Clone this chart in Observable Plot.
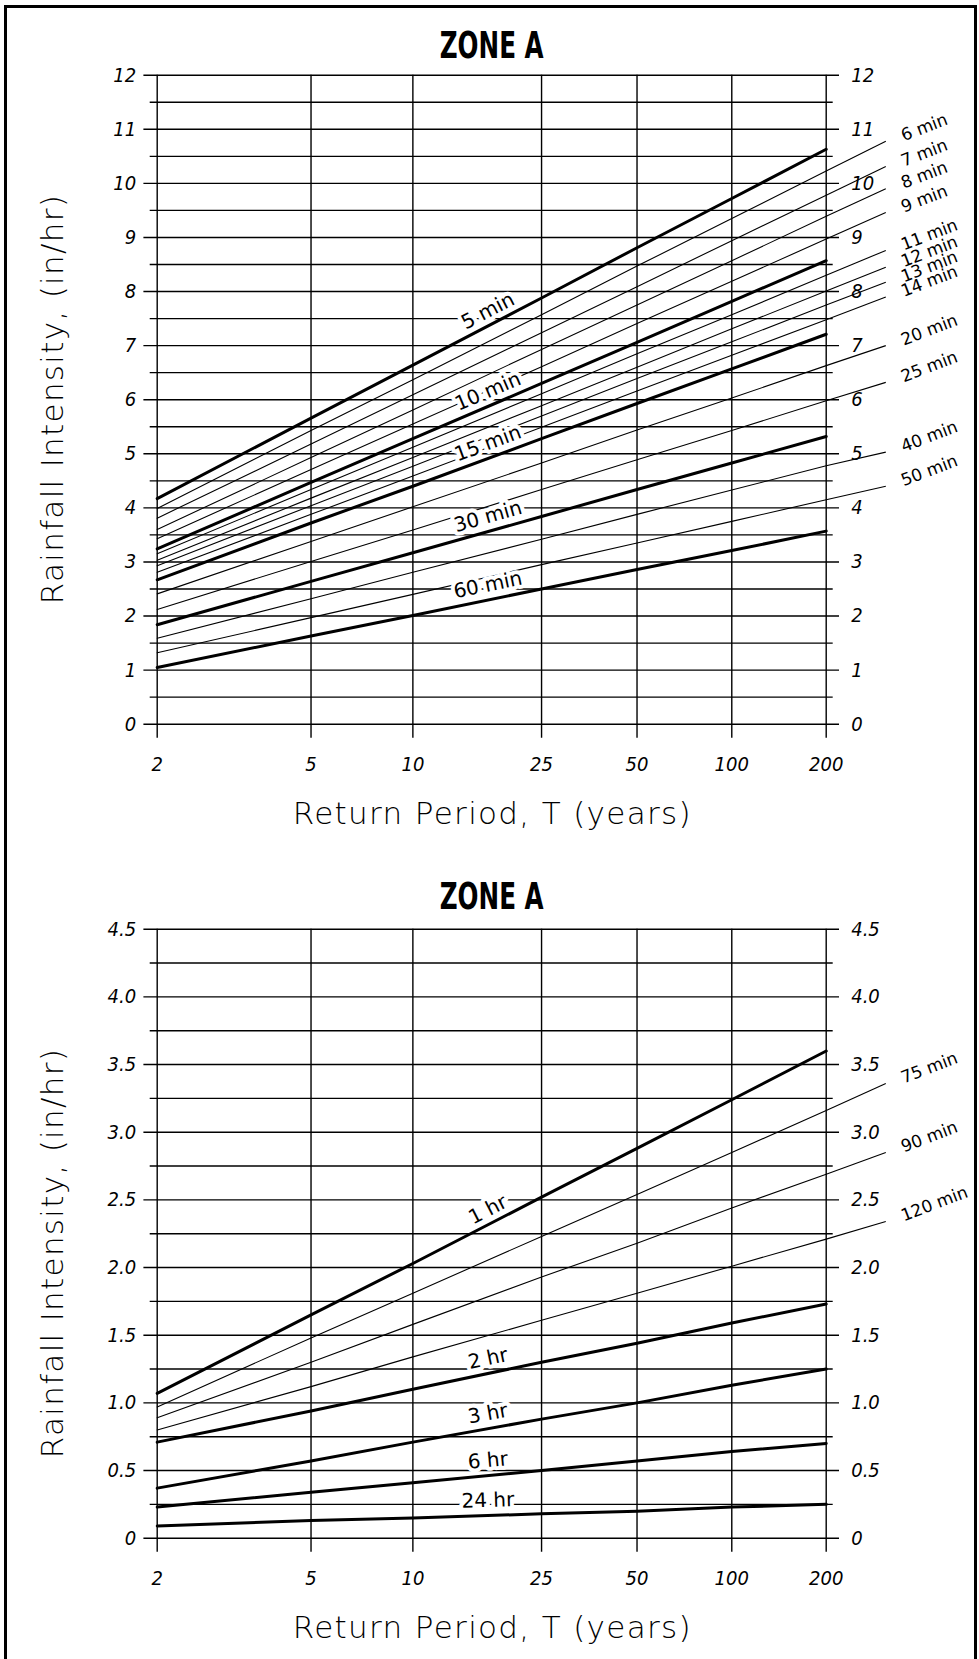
<!DOCTYPE html>
<html><head><meta charset="utf-8">
<script src="https://cdn.jsdelivr.net/npm/d3@7"></script>
<script src="https://cdn.jsdelivr.net/npm/@observablehq/plot@0.6"></script>
<style>
body{margin:0;background:#fff;}
#page{position:relative;width:979px;height:1659px;overflow:hidden;background:#fff;}
#frame{position:absolute;left:4px;top:5px;width:973px;height:1720px;border:3px solid #000;box-sizing:border-box;}
.chart{position:absolute;left:0;}
.chart svg{overflow:visible;}
</style></head><body>
<div id="page"><div id="frame"></div><div id="c1" class="chart" style="top:0px"></div><div id="c2" class="chart" style="top:850px"></div></div>
<script>
// ---------- data ----------
const returnPeriods = [2, 5, 10, 25, 50, 100, 200];
const periodTicks = [2, 5, 10, 25, 50, 100, 200];

const topTicks = [0,1,2,3,4,5,6,7,8,9,10,11,12];
const topMinorTicks = [0.5,1.5,2.5,3.5,4.5,5.5,6.5,7.5,8.5,9.5,10.5,11.5];
const bottomTicks = [0,0.5,1,1.5,2,2.5,3,3.5,4,4.5];
const bottomTickLabels = ["0","0.5","1.0","1.5","2.0","2.5","3.0","3.5","4.0","4.5"];
const bottomMinorTicks = [0.25,0.75,1.25,1.75,2.25,2.75,3.25,3.75,4.25];

// rainfall intensity (in/hr) at each return period, short durations
const min5  = [4.17, 5.66, 6.64, 7.88, 8.81, 9.72, 10.63];
const min6  = [3.99, 5.43, 6.37, 7.57, 8.47, 9.35, 10.23];
const min7  = [3.81, 5.18, 6.09, 7.24, 8.09, 8.94, 9.78];
const min8  = [3.60, 4.93, 5.81, 6.93, 7.75, 8.57, 9.39];
const min9  = [3.43, 4.71, 5.55, 6.61, 7.41, 8.19, 8.97];
const min10 = [3.24, 4.47, 5.28, 6.30, 7.06, 7.82, 8.57];
const min11 = [3.15, 4.34, 5.12, 6.11, 6.85, 7.57, 8.30];
const min12 = [3.03, 4.18, 4.93, 5.89, 6.60, 7.31, 8.01];
const min13 = [2.93, 4.04, 4.77, 5.70, 6.39, 7.07, 7.75];
const min14 = [2.81, 3.88, 4.59, 5.49, 6.16, 6.82, 7.48];
const min15 = [2.67, 3.72, 4.40, 5.28, 5.93, 6.57, 7.21];
const min20 = [2.41, 3.38, 4.02, 4.83, 5.44, 6.03, 6.63];
const min25 = [2.12, 3.01, 3.59, 4.34, 4.89, 5.43, 5.98];
const min30 = [1.84, 2.64, 3.17, 3.84, 4.34, 4.83, 5.32];
const min40 = [1.59, 2.32, 2.81, 3.42, 3.88, 4.33, 4.78];
const min50 = [1.32, 1.97, 2.40, 2.95, 3.35, 3.75, 4.15];
const min60 = [1.05, 1.63, 2.01, 2.50, 2.86, 3.21, 3.57];

// long durations
const hr1    = [1.07, 1.65, 2.03, 2.52, 2.88, 3.24, 3.60];
const min75  = [0.97, 1.48, 1.81, 2.23, 2.54, 2.85, 3.16];
const min90  = [0.89, 1.30, 1.58, 1.93, 2.18, 2.44, 2.69];
const min120 = [0.80, 1.12, 1.34, 1.61, 1.81, 2.01, 2.21];
const hr2    = [0.71, 0.94, 1.10, 1.30, 1.44, 1.59, 1.73];
const hr3    = [0.37, 0.57, 0.71, 0.88, 1.00, 1.13, 1.25];
const hr6    = [0.23, 0.34, 0.41, 0.50, 0.57, 0.64, 0.70];
const hr24   = [0.09, 0.13, 0.15, 0.18, 0.20, 0.23, 0.25];

// series names
const topNames = ["5 min","6 min","7 min","8 min","9 min","10 min","11 min","12 min","13 min","14 min","15 min","20 min","25 min","30 min","40 min","50 min","60 min"];
const topValues = [min5,min6,min7,min8,min9,min10,min11,min12,min13,min14,min15,min20,min25,min30,min40,min50,min60];
const topMain = ["5 min","10 min","15 min","30 min","60 min"];
const bottomNames = ["1 hr","75 min","90 min","120 min","2 hr","3 hr","6 hr","24 hr"];
const bottomValues = [hr1,min75,min90,min120,hr2,hr3,hr6,hr24];
const bottomMain = ["1 hr","2 hr","3 hr","6 hr","24 hr"];

// leader lines to the outside labels (end value at leader end)
const leaderT = 310;
const topLeaderNames  = ["6 min","7 min","8 min","9 min","11 min","12 min","13 min","14 min","20 min","25 min","40 min","50 min"];
const topLeaderEnds   = [10.78, 10.31, 9.90, 9.46, 8.76, 8.45, 8.17, 7.90, 7.00, 6.32, 5.03, 4.40];
const bottomLeaderNames = ["75 min","90 min","120 min"];
const bottomLeaderEnds  = [3.36, 2.85, 2.34];
const labelT = 17;

// ---------- helpers ----------
const gum = T => -Math.log(-Math.log(1 - 1 / T)); // Gumbel reduced variate (probability paper)
const W = 979, X0 = 156.7, X1 = 825.7;
const INK = "#000";
const TICKFONT = "'DejaVu Sans Condensed','DejaVu Sans',sans-serif";
const FONT = "'DejaVu Sans',sans-serif";
const LIGHT = 200;

function rows(names, values) {
  const out = [];
  names.forEach((n, k) => returnPeriods.forEach((T, i) => out.push({name: n, T, v: values[k][i]})));
  return out;
}

function chart(cfg) {
  const all = rows(cfg.names, cfg.values);
  const thick = all.filter(d => cfg.main.includes(d.name));
  const thin = all.filter(d => !cfg.main.includes(d.name));
  const pxPerV = (cfg.y1 - cfg.y0) / cfg.yMax;
  const pxPerG = (X1 - X0) / (gum(200) - gum(2));
  const i10 = returnPeriods.indexOf(10), i25 = returnPeriods.indexOf(25), i200 = returnPeriods.indexOf(200);
  const t = (gum(labelT) - gum(10)) / (gum(25) - gum(10));
  const inline = cfg.main.map(n => {
    const vals = cfg.values[cfg.names.indexOf(n)];
    const slope = ((vals[i25] - vals[i10]) * pxPerV) / ((gum(25) - gum(10)) * pxPerG);
    return {name: n, T: labelT, v: vals[i10] + t * (vals[i25] - vals[i10]), angle: -Math.atan(slope) * 180 / Math.PI};
  });
  const leaders = cfg.leaderNames.map((n, k) => ({
    name: n, v0: cfg.values[cfg.names.indexOf(n)][i200], v1: cfg.leaderEnds[k]
  }));
  const H = cfg.height;
  return Plot.plot({
    width: W, height: H,
    marginLeft: X0, marginRight: W - X1, marginTop: cfg.y0, marginBottom: H - cfg.y1,
    x: {type: "linear", domain: [gum(2), gum(200)], axis: null},
    y: {domain: [0, cfg.yMax], axis: null},
    style: {background: "none", fontFamily: FONT, color: INK, overflow: "visible"},
    marks: [
      Plot.ruleY(cfg.minor, {stroke: INK, strokeWidth: 1.4, insetLeft: -7, insetRight: -7}),
      Plot.ruleY(cfg.ticks, {stroke: INK, strokeWidth: 1.4, insetLeft: -13.3, insetRight: -13.3}),
      Plot.ruleX(periodTicks, {x: gum, stroke: INK, strokeWidth: 1.4, insetBottom: -14}),
      Plot.text(cfg.ticks, {y: d => d, text: (d, i) => cfg.tickLabels[i], frameAnchor: "left", textAnchor: "end", dx: -21, fontSize: 20, fontStyle: "italic", fontFamily: TICKFONT, fill: INK}),
      Plot.text(cfg.ticks, {y: d => d, text: (d, i) => cfg.tickLabels[i], frameAnchor: "right", textAnchor: "start", dx: 25, fontSize: 20, fontStyle: "italic", fontFamily: TICKFONT, fill: INK}),
      Plot.text(periodTicks, {x: gum, text: d => String(d), frameAnchor: "bottom", dy: 40, lineAnchor: "middle", fontSize: 20, fontStyle: "italic", fontFamily: TICKFONT, fill: INK}),
      Plot.line(thin, {x: d => gum(d.T), y: "v", z: "name", stroke: INK, strokeWidth: 1.1}),
      Plot.link(leaders, {x1: () => gum(200), y1: "v0", x2: () => gum(leaderT), y2: "v1", stroke: INK, strokeWidth: 1.1}),
      Plot.text(leaders, {x: () => gum(leaderT), y: "v1", text: "name", textAnchor: "start", lineAnchor: "middle", rotate: -21, dx: 16, dy: -5, fontSize: 17, fill: INK}),
      Plot.text(inline, {x: d => gum(d.T), y: "v", text: "name", rotate: "angle", dy: -15, fontSize: 20, fill: INK, stroke: "white", strokeWidth: 8, paintOrder: "stroke"}),
      Plot.line(thick, {x: d => gum(d.T), y: "v", z: "name", stroke: INK, strokeWidth: 3}),
      Plot.text(["ZONE A"], {frameAnchor: "top", dy: cfg.titleDy, textAnchor: "middle", lineAnchor: "middle", fontSize: 37, fontWeight: "bold", fill: INK}),
      Plot.text(["Return Period, T (years)"], {frameAnchor: "bottom", dy: 90, textAnchor: "middle", lineAnchor: "middle", fontSize: 31, fontWeight: LIGHT, fill: INK}),
      Plot.text(["Rainfall Intensity, (in/hr)"], {frameAnchor: "left", rotate: -90, dx: -104, dy: cfg.yLabelDy, textAnchor: "middle", lineAnchor: "middle", fontSize: 31, fontWeight: LIGHT, fill: INK})
    ]
  });
}

function finish(svg) {
  const s = d3.select(svg);
  s.selectAll("text").each(function() {
    const txt = this.textContent;
    if (txt === "ZONE A") d3.select(this).attr("textLength", 104).attr("lengthAdjust", "spacingAndGlyphs");
    if (txt === "Return Period, T (years)") d3.select(this).attr("textLength", 398).attr("lengthAdjust", "spacing");
    if (txt === "Rainfall Intensity, (in/hr)") d3.select(this).attr("textLength", 409).attr("lengthAdjust", "spacing");
  });
  return svg;
}

const topChart = chart({
  height: 850, y0: 74.7, y1: 723.7, yMax: 12,
  ticks: topTicks, tickLabels: topTicks.map(String), minor: topMinorTicks,
  names: topNames, values: topValues, main: topMain,
  leaderNames: topLeaderNames, leaderEnds: topLeaderEnds,
  titleDy: -29.5, yLabelDy: 0
});
const bottomChart = chart({
  height: 809, y0: 78.7, y1: 687.7, yMax: 4.5,
  ticks: bottomTicks, tickLabels: bottomTickLabels, minor: bottomMinorTicks,
  names: bottomNames, values: bottomValues, main: bottomMain,
  leaderNames: bottomLeaderNames, leaderEnds: bottomLeaderEnds,
  titleDy: -32, yLabelDy: 20
});
document.getElementById("c1").appendChild(finish(topChart));
document.getElementById("c2").appendChild(finish(bottomChart));
</script></body></html>
